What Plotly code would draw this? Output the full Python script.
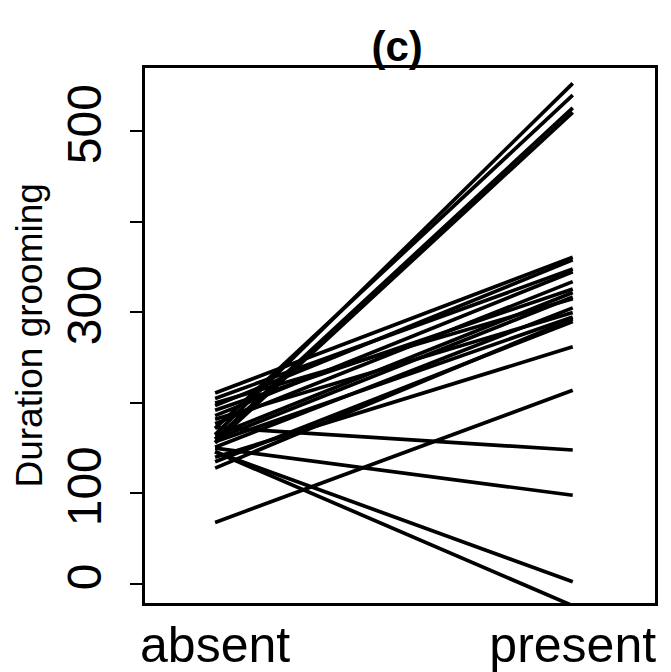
import plotly.graph_objects as go

conditions = ["absent", "present"]
absent_vals = [165, 172, 160, 156, 211, 197, 205, 186, 177, 192, 164, 200, 151, 182, 157, 135, 140, 68, 173, 150, 146, 146, 128, 160]
present_vals = [553, 540, 526, 521, 361, 358, 348, 345, 334, 326, 322, 315, 305, 300, 295, 290, 262, 214, 148, 98, 2.5, -24, 293, 317]
y_tickvals = [0, 100, 200, 300, 400, 500]
y_ticktext = ["0", "100", "", "300", "", "500"]
x_pos = [1, 2]
y_title = "Duration grooming"
panel_title = "(c)"

fig = go.Figure()
for a, p in zip(absent_vals, present_vals):
    fig.add_trace(go.Scatter(x=x_pos, y=[a, p], mode="lines",
                             line=dict(color="black", width=3.7),
                             showlegend=False, hoverinfo="skip"))

font_family = "Liberation Sans, Arial, Helvetica, sans-serif"
fig.update_layout(
    width=663, height=664,
    margin=dict(l=137, r=16, t=60, b=69, autoexpand=False),
    paper_bgcolor="white", plot_bgcolor="white",
    title=dict(text="<b>" + panel_title + "</b>", x=0.587, xanchor="center", y=0.943, yanchor="middle",
               font=dict(family=font_family, size=42, color="black")),
    font=dict(family=font_family, color="black"),
)
fig.add_annotation(text=y_title, xref="paper", yref="paper", x=-0.2255, y=0.5,
                   xanchor="center", yanchor="middle", textangle=-90, showarrow=False,
                   font=dict(size=37, family=font_family, color="black"))
fig.update_xaxes(range=[0.804, 2.23], tickvals=x_pos, ticktext=conditions,
                 showgrid=False, zeroline=False, showline=True, mirror=True, automargin=False,
                 linecolor="black", linewidth=3, ticks="", ticklabelstandoff=-4,
                 tickfont=dict(size=50, family=font_family))
fig.update_yaxes(range=[-21, 570], tickvals=y_tickvals, ticktext=y_ticktext,
                 showgrid=False, zeroline=False, showline=True, mirror=True, automargin=False,
                 linecolor="black", linewidth=3, ticks="outside", ticklen=12,
                 tickwidth=2, tickcolor="black", tickangle=-90, ticklabelstandoff=10,
                 tickfont=dict(size=48, family=font_family))

fig.write_html("out.html")
